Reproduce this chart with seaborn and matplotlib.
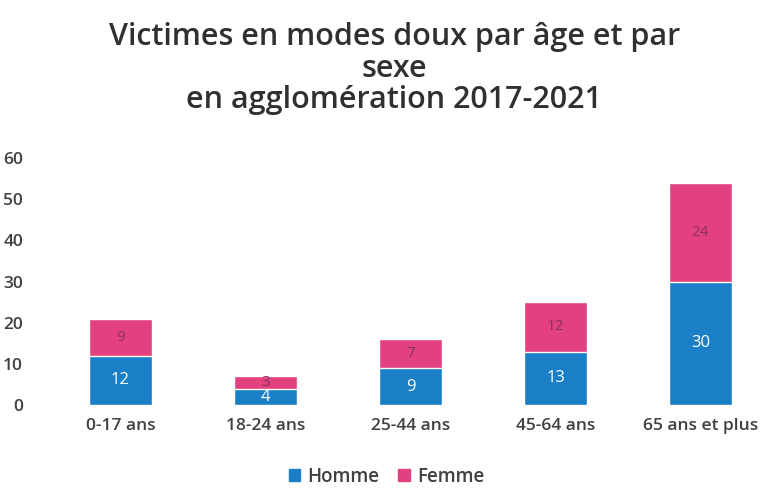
import pandas as pd
import seaborn as sns
import matplotlib.pyplot as plt
from matplotlib.patches import Patch

categories = ['0-17 ans', '18-24 ans', '25-44 ans', '45-64 ans', '65 ans et plus']
homme = [12, 4, 9, 13, 30]
femme = [9, 3, 7, 12, 24]

BLUE = '#1a7fc6'
PINK = '#e2407f'
TEXT = '#404040'

df = pd.DataFrame({'age': categories, 'Homme': homme, 'Femme': femme})
df['total'] = df['Homme'] + df['Femme']

sns.set_style('white')
plt.rcParams['font.family'] = ['Open Sans', 'DejaVu Sans']

fig = plt.figure(figsize=(7.73, 4.9), dpi=100)
ax = fig.add_axes([0.062, 0.173, 0.938, 0.505])

# stacked bars: total in pink, homme drawn over it in blue
sns.barplot(data=df, x='age', y='total', color=PINK, width=0.43, saturation=1, ax=ax)
sns.barplot(data=df, x='age', y='Homme', color=BLUE, width=0.43, saturation=1, ax=ax)

for i, (h, f) in enumerate(zip(homme, femme)):
    ax.text(i, h / 2, str(h), ha='center', va='center', color='white', fontsize=12)
    ax.text(i, h + f / 2, str(f), ha='center', va='center', color='#8a3358', fontsize=11)

ax.set_ylim(0, 60)
ax.set_xlim(-0.5, 4.5)
ax.set_yticks(range(0, 61, 10))
ax.set_xlabel('')
ax.set_ylabel('')
ax.tick_params(axis='both', length=0, labelsize=12.5, colors=TEXT)
ax.tick_params(axis='x', pad=9)
ax.tick_params(axis='y', pad=18)
for lab in ax.get_yticklabels() + ax.get_xticklabels():
    lab.set_fontweight('semibold')
sns.despine(ax=ax, left=True, bottom=True)

fig.suptitle('Victimes en modes doux par âge et par\nsexe\nen agglomération 2017-2021',
             x=0.51, y=0.955, fontsize=22, color='#303030', linespacing=1.07,
             fontweight='semibold')

handles = [Patch(color=BLUE, label='Homme'), Patch(color=PINK, label='Femme')]
leg = fig.legend(handles=handles, loc='lower center', bbox_to_anchor=(0.5, -0.028), ncol=2,
                 frameon=False, fontsize=13.5, handlelength=0.6, handleheight=0.6,
                 handletextpad=0.4, columnspacing=1.0, labelcolor=TEXT)
for t in leg.get_texts():
    t.set_fontweight('semibold')

fig.savefig('out.png', dpi=100)
